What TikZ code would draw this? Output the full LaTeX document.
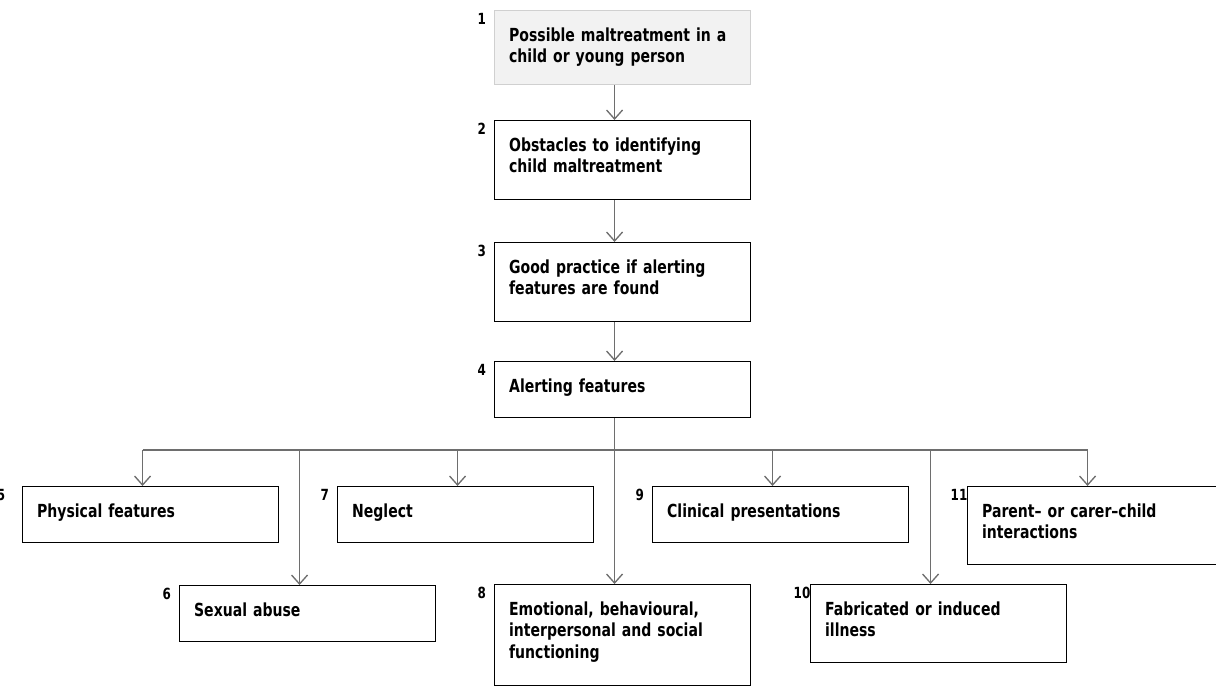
\documentclass[tikz,border=0pt]{standalone}
\usepackage{fontspec}
\usepackage{xcolor}
\usepackage{tikz}
\usetikzlibrary{positioning, arrows.meta}
\newfontfamily\tahoma{DejaVu Sans}[FakeStretch=0.78]
\definecolor{linegray}{HTML}{6E6E6E}
\definecolor{startfill}{HTML}{F2F2F2}
\definecolor{startline}{HTML}{D0D0D0}

\begin{document}
\begin{tikzpicture}[
        x=0.75pt, y=-0.75pt,
        every node/.style={align=left},
        box/.style={rectangle, draw=black, line width=0.9pt, anchor=north west, inner xsep=10.9pt, inner ysep=0pt, text width=170.25pt, text height=23.25pt, font=\tahoma\bfseries\fontsize{13.5}{16}\selectfont},
        start/.style={box, draw=startline, fill=startfill},
        num/.style={anchor=north west, inner sep=0pt, font=\tahoma\bfseries\fontsize{11.5}{13}\selectfont},
        arrow/.style={draw=linegray, line width=1pt, -{Straight Barb[length=6.75pt, width=12pt]}},
        line/.style={draw=linegray, line width=1pt}
    ]
    \useasboundingbox (0,0) rectangle (1216,687);

    % Main chain
    \node[start, text depth=32.25pt] (start) at (494,10) {Possible maltreatment in a\\child or young person};
    \node[box, text depth=36pt] (obstacles) at (494,120) {Obstacles to identifying\\child maltreatment};
    \node[box, text depth=36pt] (practice) at (494,242) {Good practice if alerting\\features are found};
    \node[box, text depth=18.75pt] (alerting) at (494,361) {Alerting features};

    % Features
    \node[box, text depth=18.75pt] (physical) at (22,486) {Physical features};
    \node[box, text depth=18.75pt] (sexual) at (179,585) {Sexual abuse};
    \node[box, text depth=18.75pt] (neglect) at (337,486) {Neglect};
    \node[box, text depth=52.5pt] (emotional) at (494,584) {Emotional, behavioural,\\interpersonal and social\\functioning};
    \node[box, text depth=18.75pt] (clinical) at (652,486) {Clinical presentations};
    \node[box, text depth=35.25pt] (fabricated) at (810,584) {Fabricated or induced\\illness};
    \node[box, text depth=35.25pt] (parent) at (967,486) {Parent– or carer–child\\interactions};

    % Numbers
    \node[num] (n1) at ([xshift=-12.4pt, yshift=-2pt]start.north west) {1};
    \node[num] (n2) at ([xshift=-12.4pt, yshift=-2pt]obstacles.north west) {2};
    \node[num] (n3) at ([xshift=-12.4pt, yshift=-2pt]practice.north west) {3};
    \node[num] (n4) at ([xshift=-12.4pt, yshift=-2pt]alerting.north west) {4};
    \node[num] (n5) at ([xshift=-19pt, yshift=-2pt]physical.north west) {5};
    \node[num] (n6) at ([xshift=-12.4pt, yshift=-2pt]sexual.north west) {6};
    \node[num] (n7) at ([xshift=-12.4pt, yshift=-2pt]neglect.north west) {7};
    \node[num] (n8) at ([xshift=-12.4pt, yshift=-2pt]emotional.north west) {8};
    \node[num] (n9) at ([xshift=-12.4pt, yshift=-2pt]clinical.north west) {9};
    \node[num] (n10) at ([xshift=-12.4pt, yshift=-2pt]fabricated.north west) {10};
    \node[num] (n11) at ([xshift=-12.4pt, yshift=-2pt]parent.north west) {11};

    % Arrows
    \coordinate (bus) at (0,450);
    \draw[arrow] ([xshift=90.4pt]start.south west) -- ([xshift=90.4pt]obstacles.north west);
    \draw[arrow] ([xshift=90.4pt]obstacles.south west) -- ([xshift=90.4pt]practice.north west);
    \draw[arrow] ([xshift=90.4pt]practice.south west) -- ([xshift=90.4pt]alerting.north west);
    \draw[line] ([xshift=90.4pt]alerting.south west) -- ([xshift=90.4pt]alerting.south west |- bus);
    \draw[line] ([xshift=90.4pt]physical.north west |- bus) -- ([xshift=90.4pt]parent.north west |- bus);
    \foreach \feat in {physical, sexual, neglect, emotional, clinical, fabricated, parent}
        \draw[arrow] ([xshift=90.4pt]\feat.north west |- bus) -- ([xshift=90.4pt]\feat.north west);

\end{tikzpicture}
\end{document}
